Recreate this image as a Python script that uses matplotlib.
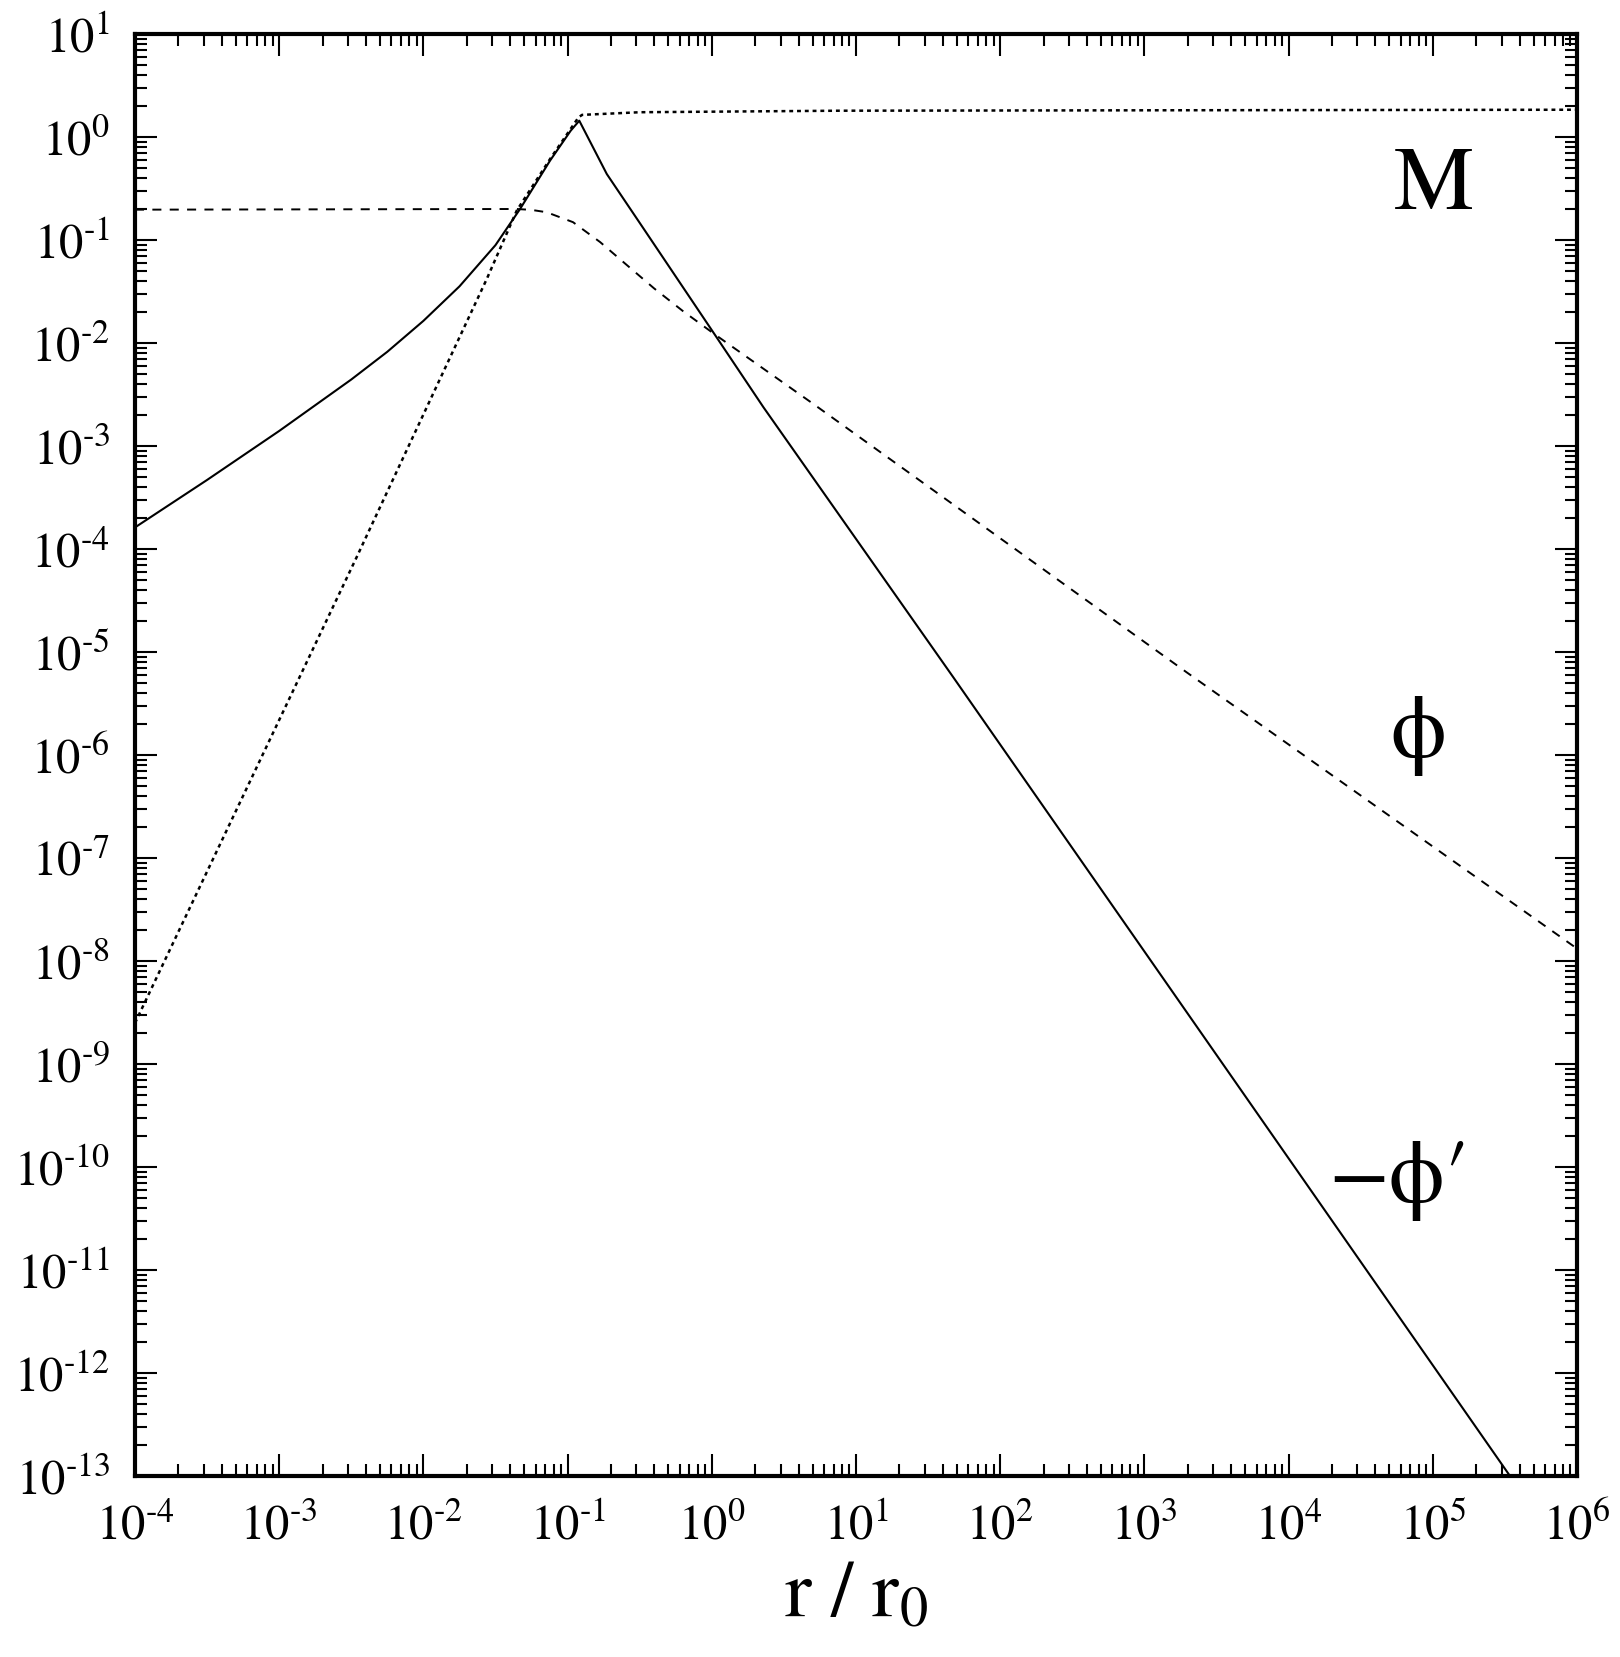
import numpy as np
import matplotlib
matplotlib.use("Agg")
import matplotlib.pyplot as plt
from matplotlib.ticker import LogLocator, FuncFormatter, NullFormatter

plt.rcParams['font.family'] = ['STIXGeneral', 'DejaVu Serif']
plt.rcParams['mathtext.fontset'] = 'stix'
plt.rcParams['lines.scale_dashes'] = False

# -phi' (solid)
r_dphi = [1e-4, 3.16e-4, 1e-3, 3.16e-3, 5.62e-3, 1e-2, 1.78e-2, 3.16e-2, 0.0468,
          0.0755, 0.105, 0.1205, 0.187, 0.318, 1.08, 2.28, 47.3, 3.43e5]
dphi = [1.62e-4, 4.68e-4, 1.40e-3, 4.42e-3, 8.22e-3, 1.64e-2, 3.55e-2, 8.91e-2,
        0.200, 0.589, 1.15, 1.44, 0.437, 0.145, 1.135e-2, 2.38e-3,
        5.68e-6, 1e-13]

# M (dotted)
r_mass = [1e-4, 3.44e-3, 0.0275, 0.0444, 0.0755, 0.119, 0.126, 0.318, 7.74, 1e6]
mass = [2.5e-9, 8.3e-5, 0.0418, 0.193, 0.61, 1.55, 1.64, 1.74, 1.80, 1.84]

# phi (dashed)
r_phi = [1e-4, 0.0444, 0.0562, 0.0716, 0.109, 0.168, 0.251, 0.398, 0.631,
         1.08, 5.06, 1963, 1e6]
phi = [0.197, 0.200, 0.196, 0.186, 0.149, 0.0955, 0.0589, 0.0339, 0.0204,
       0.01178, 2.56e-3, 6.35e-6, 1.32e-8]


def fmt(v, pos):
    e = int(round(np.log10(v)))
    if e < 0:
        return r'$10^{\text{-}%d}$' % (-e)
    return r'$10^{%d}$' % e


fig = plt.figure(figsize=(16.2, 16.58), dpi=100)
ax = fig.add_axes([135/1620, 1 - 1477/1658, 1442/1620, 1442/1658])

ax.plot(r_dphi, dphi, color='black', lw=1.5, solid_joinstyle='round')
ax.plot(r_mass, mass, color='black', lw=1.8, linestyle=(0, (2.8, 2.8)))
ax.plot(r_phi, phi, color='black', lw=1.4, linestyle=(0, (6.5, 6.0)))

ax.set_xscale('log')
ax.set_yscale('log')
ax.set_xlim(1e-4, 1e6)
ax.set_ylim(1e-13, 1e1)

for a in (ax.xaxis, ax.yaxis):
    a.set_major_locator(LogLocator(base=10, numticks=30))
    a.set_minor_locator(LogLocator(base=10, subs=np.arange(2, 10), numticks=30))
    a.set_major_formatter(FuncFormatter(fmt))
    a.set_minor_formatter(NullFormatter())

ax.tick_params(which='both', direction='in', top=True, right=True, labelsize=35)
ax.tick_params(which='major', length=16, width=1.5)
ax.tick_params(which='minor', length=8.5, width=1.5)
ax.tick_params(axis='x', pad=20)
ax.tick_params(axis='y', pad=18)
for s in ax.spines.values():
    s.set_linewidth(3)

ax.set_xlabel(r'$\mathrm{r\ /\ r_0}$', fontsize=58, labelpad=8)

ax.text(0.901, 0.894, 'M', transform=ax.transAxes, fontsize=65,
        ha='center', va='center')
ax.text(0.890, 0.514, '\u03d5', transform=ax.transAxes, fontsize=64,
        ha='center', va='center')
ax.text(0.877, 0.205, '\u2212\u03d5\u2032', transform=ax.transAxes, fontsize=64,
        ha='center', va='center')

fig.savefig('out.png', dpi=100)
